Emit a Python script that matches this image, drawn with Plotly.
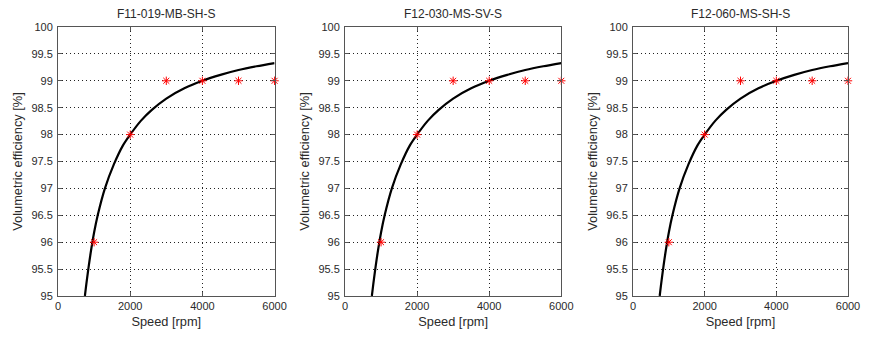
import plotly.graph_objects as go

titles = ["F11-019-MB-SH-S", "F12-030-MS-SV-S", "F12-060-MS-SH-S"]

# measured points (red asterisks)
speed_meas = [1000, 2000, 3000, 4000, 5000, 6000]
eff_meas = [96.0, 98.0, 99.0, 99.0, 99.0, 99.0]

# fitted curve
speed_fit = [745, 800, 900, 1000, 1100, 1300, 1550, 1800, 2000, 2300, 2600, 3000, 3500, 4000, 4500, 5000, 5500, 6000]
eff_fit = [95.0, 95.3, 95.78, 96.18, 96.5, 97.0, 97.45, 97.8, 98.0, 98.26, 98.46, 98.67, 98.86, 99.0, 99.11, 99.2, 99.27, 99.33]

x_ticks = [0, 2000, 4000, 6000]
y_ticks = [95, 95.5, 96, 96.5, 97, 97.5, 98, 98.5, 99, 99.5, 100]
y_tick_text = ["95", "95.5", "96", "96.5", "97", "97.5", "98", "98.5", "99", "99.5", "100"]

W, H = 872, 338
ml, mr, mt, mb = 58, 13, 27, 39
pw = W - ml - mr
panels_px = [(58, 277.6), (349, 568.3), (641, 859)]
domains = [((a - ml) / pw, (b - ml) / pw) for a, b in panels_px]

fam = "Liberation Sans, Arial, sans-serif"
tick_font = dict(family=fam, size=11, color="#2a2a2a")
axtitle_font = dict(family=fam, size=12.8, color="#2a2a2a")

fig = go.Figure()

for i, t in enumerate(titles):
    xa = "x" if i == 0 else f"x{i+1}"
    ya = "y" if i == 0 else f"y{i+1}"
    fig.add_trace(go.Scatter(x=speed_fit, y=eff_fit, mode="lines",
                             line=dict(color="black", width=2.2, shape="spline", smoothing=0.8),
                             xaxis=xa, yaxis=ya, showlegend=False, hoverinfo="skip"))
    fig.add_trace(go.Scatter(x=speed_meas, y=eff_meas, mode="markers",
                             marker=dict(symbol="asterisk-open", size=7, color="red", line=dict(color="red", width=1)),
                             xaxis=xa, yaxis=ya, showlegend=False, cliponaxis=False))
    axcommon = dict(showline=True, linecolor="#555555", linewidth=1, mirror="ticks", ticks="inside", ticklen=4,
                    tickcolor="#555555", showgrid=True, gridcolor="#222222", griddash="1px,3px", gridwidth=1,
                    zeroline=False, tickfont=tick_font)
    xkey = "xaxis" if i == 0 else f"xaxis{i+1}"
    ykey = "yaxis" if i == 0 else f"yaxis{i+1}"
    fig.update_layout({
        xkey: dict(axcommon, domain=list(domains[i]), range=[0, 6000], tickvals=x_ticks,
                   anchor=ya, title=dict(text="Speed [rpm]", font=axtitle_font, standoff=5)),
        ykey: dict(axcommon, domain=[0, 1], range=[95, 100], tickvals=y_ticks, ticktext=y_tick_text,
                   ticklabelstandoff=2,
                   anchor=xa, title=dict(text="Volumetric efficiency [%]", font=axtitle_font, standoff=5)),
    })
    fig.add_annotation(text=t, x=(domains[i][0] + domains[i][1]) / 2, y=1, xref="paper", yref="paper",
                       xanchor="center", yanchor="bottom", yshift=4, showarrow=False,
                       font=dict(family=fam, size=12, color="#2a2a2a"))

fig.update_layout(width=W, height=H, margin=dict(l=ml, r=mr, t=mt, b=mb),
                  paper_bgcolor="white", plot_bgcolor="white")
fig.write_html("out.html")
